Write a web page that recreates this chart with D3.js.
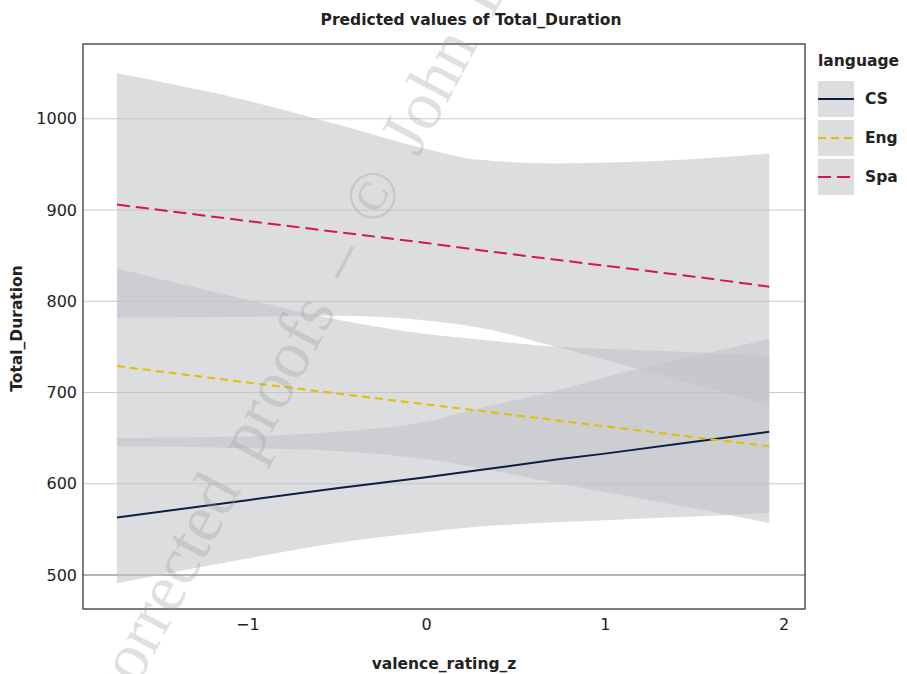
<!DOCTYPE html>
<html>
<head>
<meta charset="utf-8">
<script src="https://cdn.jsdelivr.net/npm/d3@7"></script>
<style>
  html, body { margin: 0; padding: 0; background: #fff; }
  svg text { font-family: "DejaVu Sans", "Open Sans", sans-serif; }
</style>
</head>
<body>
<div id="chart"></div>
<script>
// valence_rating_z positions where values were read
const xVals = [-1.73, -1, -0.5, 0, 0.3, 0.75, 1, 1.5, 1.92];

// predicted Total_Duration and confidence bands, per language
const csFit  = [563, 582, 595, 607, 615, 627, 633, 646, 657];
const csLow  = [491, 518, 535, 547, 553, 558, 560, 564, 568];
const csHigh = [650, 652, 657, 668, 683, 703, 717, 740, 759];

const engFit  = [729, 711, 699, 687, 680, 669, 663, 651, 641];
const engLow  = [641, 639, 636, 627, 617, 600, 591, 573, 557];
const engHigh = [836, 802, 780, 764, 758, 750, 748, 744, 740];

const spaFit  = [906, 888, 876, 864, 856, 845, 839, 827, 816];
const spaLow  = [782, 783, 784, 779, 771, 749, 736, 709, 686];
const spaHigh = [1050, 1020, 994, 967, 955, 951, 952, 956, 962];

const languages = ['CS', 'Eng', 'Spa'];
const yTicks = [500, 600, 700, 800, 900, 1000];
const xTicks = [-1, 0, 1, 2];

const W = 907, H = 674;
const margin = { top: 44, right: 102, bottom: 65, left: 83 };
const w = W - margin.left - margin.right;
const h = H - margin.top - margin.bottom;

const series = [
    { name: languages[0], fit: csFit,  low: csLow,  high: csHigh,  color: '#0d1d45', dash: null },
    { name: languages[1], fit: engFit, low: engLow, high: engHigh, color: '#e3bf00', dash: '8,5' },
    { name: languages[2], fit: spaFit, low: spaLow, high: spaHigh, color: '#d6164b', dash: '13,6' }
];

const svg = d3.select('#chart')
    .append('svg')
    .attr('width', W)
    .attr('height', H);

const g = svg.append('g')
    .attr('transform', `translate(${margin.left}, ${margin.top})`);

const xScale = d3.scaleLinear().domain([-1.92, 2.12]).range([0, w]);
const yScale = d3.scaleLinear().domain([462.7, 1082]).range([h, 0]);

// grid lines (horizontal only)
g.append('g')
    .selectAll('line')
    .data(yTicks)
    .enter()
    .append('line')
    .attr('x1', 0)
    .attr('x2', w)
    .attr('y1', d => yScale(d))
    .attr('y2', d => yScale(d))
    .attr('stroke', d => d === 500 ? '#9a9a9a' : '#c9c9c9')
    .attr('stroke-width', d => d === 500 ? 1.4 : 1);

// ribbons
const area = d3.area()
    .x((d, i) => xScale(xVals[i]))
    .y0(d => yScale(d[0]))
    .y1(d => yScale(d[1]))
    .curve(d3.curveMonotoneX);

g.append('g')
    .selectAll('path')
    .data(series)
    .enter()
    .append('path')
    .attr('d', s => area(s.low.map((v, i) => [v, s.high[i]])))
    .attr('fill', 'rgb(193,195,199)')
    .attr('fill-opacity', 0.57);

// watermark
svg.append('text')
    .attr('transform', 'translate(84, 786) rotate(-62)')
    .style('font-family', '"Liberation Serif", "DejaVu Serif", serif')
    .style('font-size', '68px')
    .style('word-spacing', '12px')
    .attr('fill', '#999')
    .attr('fill-opacity', 0.3)
    .text('Uncorrected proofs – © John Benjamins');

// fitted lines
const line = d3.line()
    .x((d, i) => xScale(xVals[i]))
    .y(d => yScale(d));

g.append('g')
    .selectAll('path')
    .data(series)
    .enter()
    .append('path')
    .attr('d', s => line(s.fit))
    .attr('fill', 'none')
    .attr('stroke', s => s.color)
    .attr('stroke-width', 2)
    .attr('stroke-dasharray', s => s.dash);

// panel border
g.append('rect')
    .attr('width', w)
    .attr('height', h)
    .attr('fill', 'none')
    .attr('stroke', '#3a3a3a')
    .attr('stroke-width', 1.3);

// axes (labels only, no tick marks)
const yAxis = d3.axisLeft(yScale).tickValues(yTicks).tickSize(0).tickPadding(6)
    .tickFormat(d3.format('d'));
const yG = g.append('g').call(yAxis);
yG.select('.domain').remove();
yG.selectAll('text')
    .style('font-family', '"DejaVu Sans", sans-serif')
    .style('font-size', '16px')
    .attr('fill', '#222');

const xAxis = d3.axisBottom(xScale).tickValues(xTicks).tickSize(0).tickPadding(10)
    .tickFormat(d => d < 0 ? '\u2212' + Math.abs(d) : d);
const xG = g.append('g')
    .attr('transform', `translate(0, ${h})`)
    .call(xAxis);
xG.select('.domain').remove();
xG.selectAll('text')
    .style('font-family', '"DejaVu Sans", sans-serif')
    .style('font-size', '16px')
    .attr('fill', '#222');

// titles
svg.append('text')
    .attr('x', 471)
    .attr('y', 25)
    .attr('text-anchor', 'middle')
    .style('font-size', '15.5px')
    .style('font-weight', 'bold')
    .attr('fill', '#222')
    .text('Predicted values of Total_Duration');

svg.append('text')
    .attr('x', margin.left + w / 2)
    .attr('y', 669)
    .attr('text-anchor', 'middle')
    .style('font-size', '15.5px')
    .style('font-weight', 'bold')
    .attr('fill', '#222')
    .text('valence_rating_z');

svg.append('text')
    .attr('transform', `translate(22, ${margin.top + h / 2 + 2}) rotate(-90)`)
    .attr('text-anchor', 'middle')
    .style('font-size', '15.5px')
    .style('font-weight', 'bold')
    .attr('fill', '#222')
    .text('Total_Duration');

// legend
const legend = svg.append('g')
    .attr('transform', 'translate(818, 0)');

legend.append('text')
    .attr('x', 0)
    .attr('y', 66)
    .style('font-size', '15.5px')
    .style('font-weight', 'bold')
    .attr('fill', '#222')
    .text('language');

const keys = legend.selectAll('.key')
    .data(series)
    .enter()
    .append('g')
    .classed('key', true)
    .attr('transform', (d, i) => `translate(0, ${81 + i * 39})`);

keys.append('rect')
    .attr('width', 36)
    .attr('height', 36)
    .attr('fill', 'rgb(193,195,199)')
    .attr('fill-opacity', 0.57);

keys.append('line')
    .attr('x1', 0)
    .attr('x2', 36)
    .attr('y1', 18)
    .attr('y2', 18)
    .attr('stroke', d => d.color)
    .attr('stroke-width', 2)
    .attr('stroke-dasharray', d => d.dash);

keys.append('text')
    .attr('x', 47)
    .attr('y', 18)
    .attr('dy', '0.35em')
    .style('font-size', '15.5px')
    .style('font-weight', 'bold')
    .attr('fill', '#222')
    .text(d => d.name);
</script>
</body>
</html>
